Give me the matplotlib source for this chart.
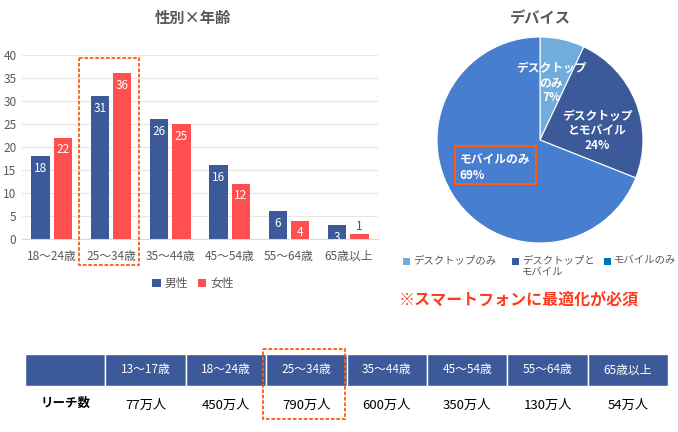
import matplotlib.pyplot as plt
import matplotlib.patches as mpatches
import numpy as np

plt.rcParams['font.family'] = ['Noto Sans CJK JP', 'DejaVu Sans']

# ========== データ ==========
age_labels = ['18～24歳', '25～34歳', '35～44歳', '45～54歳', '55～64歳', '65歳以上']
male = [18, 31, 26, 16, 6, 3]
female = [22, 36, 25, 12, 4, 1]

device_labels = ['デスクトップのみ', 'デスクトップと\nモバイル', 'モバイルのみ']
device_pie_labels = ['デスクトップ\nのみ\n7%', 'デスクトップ\nとモバイル\n24%', 'モバイルのみ\n69%']
device_share = [7, 24, 69]

table_cols = ['13～17歳', '18～24歳', '25～34歳', '35～44歳', '45～54歳', '55～64歳', '65歳以上']
reach = ['77万人', '450万人', '790万人', '600万人', '350万人', '130万人', '54万人']

W, H = 678, 432
c_male = '#3C5A99'
c_female = '#FF4F4F'
c_gray = '#595959'
c_orange = '#FF5A10'

fig = plt.figure(figsize=(W / 100, H / 100), dpi=100)

# ========== 1. 性別×年齢 棒グラフ ==========
ax = fig.add_axes([22 / W, 1 - 239 / H, 356 / W, 184 / H])
x = np.arange(len(age_labels))
bw = 0.31
b1 = ax.bar(x - 0.19, male, bw, color=c_male, label='男性', zorder=2)
b2 = ax.bar(x + 0.19, female, bw, color=c_female, label='女性', zorder=2)

for bars in (b1, b2):
    for b in bars:
        v = b.get_height()
        cx = b.get_x() + b.get_width() / 2
        if v >= 3:
            ax.annotate(str(int(v)), (cx, v), xytext=(0, -4), textcoords='offset points',
                        ha='center', va='top', color='white', fontsize=8.5)
        else:
            ax.annotate(str(int(v)), (cx, v), xytext=(0, 1), textcoords='offset points',
                        ha='center', va='bottom', color=c_gray, fontsize=8.5)

ax.set_xlim(-0.5, len(age_labels) - 0.5)
ax.set_ylim(0, 40)
ax.set_yticks(range(0, 41, 5))
ax.set_xticks(x)
ax.set_xticklabels(age_labels)
ax.tick_params(axis='both', length=0, labelsize=8.5, labelcolor=c_gray)
ax.tick_params(axis='y', pad=4)
ax.tick_params(axis='x', pad=8)
ax.grid(axis='y', color='#E6E6E6', linewidth=0.8, zorder=0)
for s in ['top', 'right', 'left']:
    ax.spines[s].set_visible(False)
ax.spines['bottom'].set_color('#D9D9D9')
ax.legend(loc='upper center', bbox_to_anchor=(0.48, -0.15), ncol=2, frameon=False,
          fontsize=8.5, labelcolor=c_gray, handlelength=0.7, handleheight=0.7,
          handletextpad=0.3, columnspacing=0.9)
fig.text(193 / W, 1 - 18 / H, '性別×年齢', ha='center', va='center',
         fontsize=11, fontweight='bold', color=c_gray)

# ========== 2. デバイス 円グラフ ==========
axp = fig.add_axes([437 / W, 1 - 243 / H, 206 / W, 206 / H])
pie_colors = ['#70ADDC', '#3C5A99', '#477ED0']
wedges, _ = axp.pie(device_share, colors=pie_colors, startangle=90, counterclock=False,
                    wedgeprops=dict(linewidth=0.8, edgecolor='white'))
axp.set_xlim(-1, 1)
axp.set_ylim(-1, 1)
axp.set_aspect('equal')

label_pos = [(0.11, 0.55), (0.56, 0.09), (-0.78, -0.27)]
for i, (lbl, (px, py)) in enumerate(zip(device_pie_labels, label_pos)):
    axp.text(px, py, lbl, ha='center' if i < 2 else 'left', va='center', color='white',
             fontsize=8.5, fontweight='bold', linespacing=1.15)

fig.text(540 / W, 1 - 18 / H, 'デバイス', ha='center', va='center',
         fontsize=11, fontweight='bold', color=c_gray)
fig.text(519 / W, 1 - 300 / H, '※スマートフォンに最適化が必須', ha='center', va='center',
         fontsize=11.5, fontweight='bold', color='#FF3B1F')

# ========== 3. 表・凡例・ハイライト枠 ==========
ov = fig.add_axes([0, 0, 1, 1], zorder=5)
ov.set_xlim(0, W)
ov.set_ylim(H, 0)
ov.axis('off')

# 円グラフの凡例（1行目の高さをそろえる）
legend_colors = ['#70ADDC', '#3C5A99', '#0070C0']
legend_x = [403, 512, 604]
for lx, c, lbl in zip(legend_x, legend_colors, device_labels):
    ov.add_patch(mpatches.Rectangle((lx, 258), 6.5, 6.5, facecolor=c, edgecolor='none'))
    ov.text(lx + 10, 255, lbl, ha='left', va='top', color=c_gray, fontsize=7.5,
            linespacing=1.25)

x0, col_w = 25, 80.4
hy0, hy1 = 354, 386
n = len(table_cols) + 1
for i in range(n):
    ov.add_patch(mpatches.Rectangle((x0 + i * col_w, hy0), col_w, hy1 - hy0,
                                    facecolor=c_male, edgecolor='white', linewidth=1))
for i, (col, val) in enumerate(zip(table_cols, reach)):
    cx = x0 + (i + 1.5) * col_w
    ov.text(cx, (hy0 + hy1) / 2, col, ha='center', va='center', color='white', fontsize=8.5)
    ov.text(cx, 405, val, ha='center', va='center', color='black', fontsize=9.5)
ov.text(x0 + 0.5 * col_w, 403, 'リーチ数', ha='center', va='center', color='black',
        fontsize=9, fontweight='bold')

# オレンジ色の強調枠
ov.add_patch(mpatches.Rectangle((79, 58), 60, 207, fill=False, edgecolor=c_orange,
                                linewidth=1.3, linestyle=(0, (2, 1))))
ov.add_patch(mpatches.Rectangle((x0 + 3 * col_w - 3, 349), col_w + 1, 70, fill=False,
                                edgecolor=c_orange, linewidth=1.3, linestyle=(0, (2, 1))))
ov.add_patch(mpatches.Rectangle((455, 146), 81, 38, fill=False, edgecolor=c_orange,
                                linewidth=1.5))

fig.savefig('out.png', dpi=100)
